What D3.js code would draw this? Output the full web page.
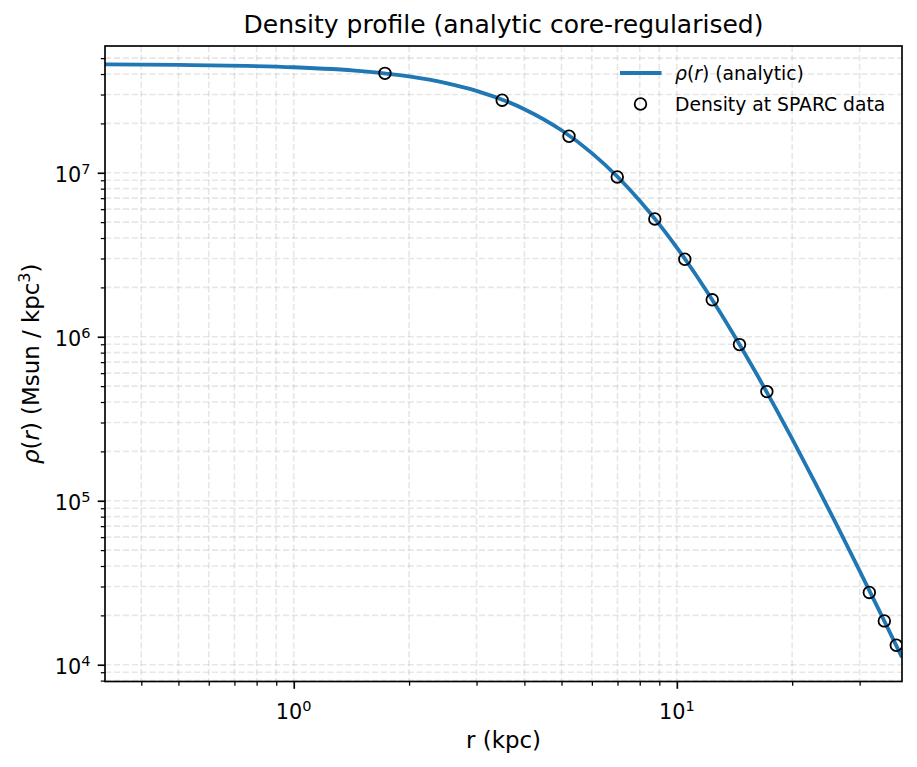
<!DOCTYPE html>
<html>
<head>
<meta charset="utf-8">
<script src="https://cdn.jsdelivr.net/npm/d3@7"></script>
<style>
  html, body { margin: 0; padding: 0; background: #fff; }
  text { font-family: "DejaVu Sans", sans-serif; fill: #000; }
</style>
</head>
<body>
<svg id="chart" width="917" height="767"></svg>
<script>
// ---- data ----
const curveR   = [0.3216, 0.5, 0.75, 1, 1.5, 2, 2.5, 3, 4, 5, 6, 7, 8, 9, 10, 12, 14, 16, 18, 20, 23, 26, 30, 34, 38.7];
const curveRho = [4.58e7, 4.549e7, 4.485e7, 4.399e7, 4.165e7, 3.865e7, 3.523e7, 3.159e7, 2.442e7, 1.816e7, 1.318e7, 9.46e6, 6.76e6, 4.85e6, 3.50e6, 1.877e6, 1.052e6, 6.16e5, 3.76e5, 2.384e5, 1.278e5, 7.30e4, 3.74e4, 2.066e4, 1.109e4];

const dataR   = [1.73, 3.50, 5.23, 6.99, 8.76, 10.49, 12.37, 14.57, 17.18, 31.8, 34.8, 37.4];
const dataRho = [4.04e7, 2.77e7, 1.67e7, 9.43e6, 5.23e6, 2.97e6, 1.68e6, 8.96e5, 4.63e5, 2.76e4, 1.85e4, 1.315e4];

const xMajorTicks = [1, 10];
const xMajorExp   = ["0", "1"];
const yMajorTicks = [1e4, 1e5, 1e6, 1e7];
const yMajorExp   = ["4", "5", "6", "7"];

const titleText  = "Density profile (analytic core-regularised)";
const xLabelText = "r (kpc)";
const legendLine = "(analytic)";
const legendPts  = "Density at SPARC data";

// ---- layout ----
const L = 105, R = 902, T = 46, B = 681.5;
const svg = d3.select("#chart");

const x = d3.scaleLog().domain([0.3216, 38.7]).range([L, R]);
const y = d3.scaleLog().domain([7902, 5.93e7]).range([B, T]);

const isMajor = v => Math.abs(Math.log10(v) - Math.round(Math.log10(v))) < 1e-9;
const xAll = x.ticks().filter(v => v >= x.domain()[0] && v <= x.domain()[1]);
const yAll = y.ticks().filter(v => v >= y.domain()[0] && v <= y.domain()[1]);
const xMinor = xAll.filter(v => !isMajor(v));
const yMinor = yAll.filter(v => !isMajor(v));

// grid
const grid = svg.append("g");
grid.selectAll("line.gx").data(xAll).join("line")
  .attr("x1", d => x(d)).attr("x2", d => x(d)).attr("y1", T).attr("y2", B)
  .attr("stroke", "#b0b0b0").attr("stroke-opacity", 0.3).attr("stroke-width", 1.6)
  .attr("stroke-dasharray", "6.2,2.7");
grid.selectAll("line.gy").data(yAll).join("line")
  .attr("y1", d => y(d)).attr("y2", d => y(d)).attr("x1", L).attr("x2", R)
  .attr("stroke", "#b0b0b0").attr("stroke-opacity", 0.3).attr("stroke-width", 1.6)
  .attr("stroke-dasharray", "6.2,2.7");

// clip
svg.append("clipPath").attr("id", "clip").append("rect")
  .attr("x", L).attr("y", T).attr("width", R - L).attr("height", B - T);

const plot = svg.append("g").attr("clip-path", "url(#clip)");

const line = d3.line().x((d, i) => x(curveR[i])).y(d => y(d)).curve(d3.curveMonotoneX);
plot.append("path").datum(curveRho).attr("d", line)
  .attr("fill", "none").attr("stroke", "#1f77b4").attr("stroke-width", 3.8);

plot.selectAll("circle.pt").data(dataRho).join("circle")
  .attr("cx", (d, i) => x(dataR[i])).attr("cy", d => y(d)).attr("r", 5.8)
  .attr("fill", "none").attr("stroke", "#000").attr("stroke-width", 1.8);

// axes
function styleAxis(g, w) {
  g.select(".domain").remove();
  g.selectAll(".tick line").attr("stroke", "#000").attr("stroke-width", w);
}
svg.append("g").attr("transform", `translate(0,${B})`)
  .call(d3.axisBottom(x).tickValues(xMinor).tickSize(4.2).tickFormat(""))
  .call(g => styleAxis(g, 1.25));
svg.append("g").attr("transform", `translate(${L},0)`)
  .call(d3.axisLeft(y).tickValues(yMinor).tickSize(4.2).tickFormat(""))
  .call(g => styleAxis(g, 1.25));

svg.append("g").attr("transform", `translate(0,${B})`)
  .call(d3.axisBottom(x).tickValues(xMajorTicks).tickSize(7.3).tickFormat(""))
  .call(g => styleAxis(g, 1.67));
svg.append("g").attr("transform", `translate(${L},0)`)
  .call(d3.axisLeft(y).tickValues(yMajorTicks).tickSize(7.3).tickFormat(""))
  .call(g => styleAxis(g, 1.67));

// tick labels
xMajorTicks.forEach((v, i) => {
  const t = svg.append("text").attr("x", x(v)).attr("y", 719).attr("text-anchor", "middle")
    .style("font-size", "20.8px");
  t.append("tspan").text("10");
  t.append("tspan").attr("dy", -8.5).style("font-size", "14.6px").text(xMajorExp[i]);
});
yMajorTicks.forEach((v, i) => {
  const t = svg.append("text").attr("x", 90.5).attr("y", y(v) + 9.5).attr("text-anchor", "end")
    .style("font-size", "20.8px");
  t.append("tspan").text("10");
  t.append("tspan").attr("dy", -8.5).style("font-size", "14.6px").text(yMajorExp[i]);
});

// spines
svg.append("rect").attr("x", L).attr("y", T).attr("width", R - L).attr("height", B - T)
  .attr("fill", "none").attr("stroke", "#000").attr("stroke-width", 1.67);

// title & labels
svg.append("text").attr("x", (L + R) / 2).attr("y", 33).attr("text-anchor", "middle")
  .style("font-size", "25px").text(titleText);
svg.append("text").attr("x", (L + R) / 2).attr("y", 748).attr("text-anchor", "middle")
  .style("font-size", "22.9px").text(xLabelText);

const yl = svg.append("text").attr("transform", `translate(39,${(T + B) / 2}) rotate(-90)`)
  .attr("text-anchor", "middle").style("font-size", "22.9px");
yl.append("tspan").style("font-style", "italic").text("ρ");
yl.append("tspan").text("(");
yl.append("tspan").style("font-style", "italic").text("r");
yl.append("tspan").text(") (Msun / kpc");
yl.append("tspan").attr("dy", -9.5).style("font-size", "16px").text("3");
yl.append("tspan").attr("dy", 9.5).text(")");

// legend
const lg = svg.append("g");
lg.append("line").attr("x1", 620).attr("x2", 661.5).attr("y1", 73).attr("y2", 73)
  .attr("stroke", "#1f77b4").attr("stroke-width", 3.8);
lg.append("circle").attr("cx", 640.5).attr("cy", 104).attr("r", 5.8)
  .attr("fill", "none").attr("stroke", "#000").attr("stroke-width", 1.8);
const lt1 = lg.append("text").attr("x", 675).attr("y", 80).style("font-size", "18.75px");
lt1.append("tspan").style("font-style", "italic").text("ρ");
lt1.append("tspan").text("(");
lt1.append("tspan").style("font-style", "italic").text("r");
lt1.append("tspan").text(") " + legendLine);
lg.append("text").attr("x", 675).attr("y", 111).style("font-size", "18.75px").text(legendPts);
</script>
</body>
</html>
